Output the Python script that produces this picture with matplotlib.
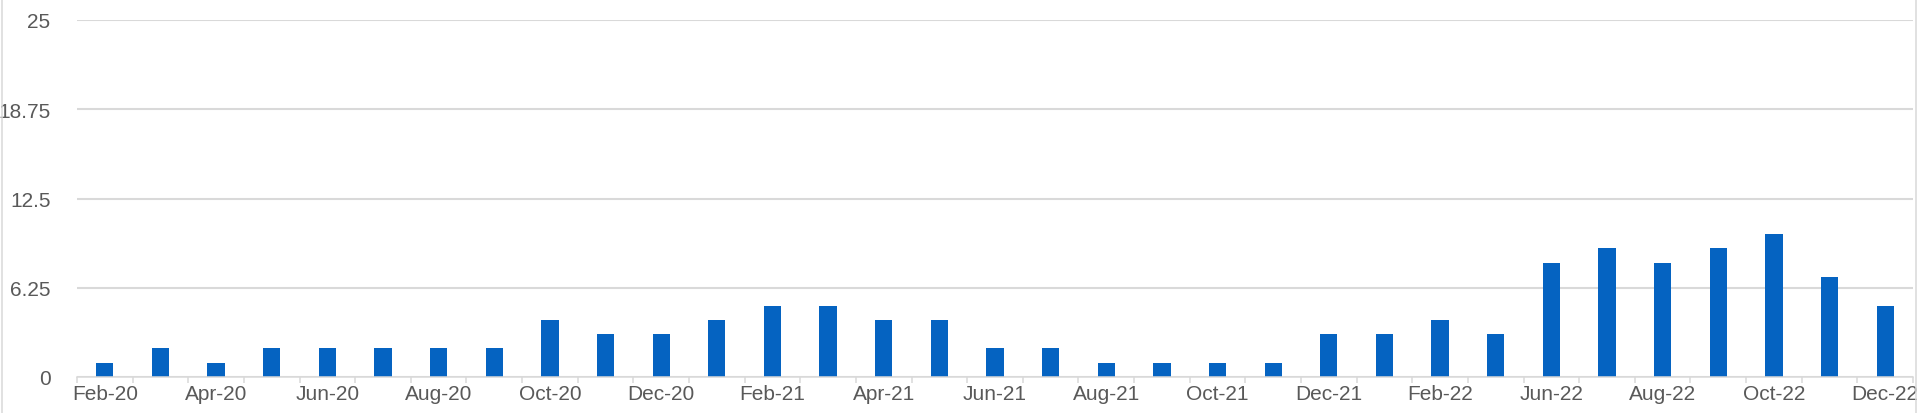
import numpy as np
import matplotlib.pyplot as plt
from matplotlib.lines import Line2D

# monthly categories (one unlabeled category between Feb-22 and Jun-22)
months = ['Feb-20', 'Mar-20', 'Apr-20', 'May-20', 'Jun-20', 'Jul-20', 'Aug-20', 'Sep-20',
          'Oct-20', 'Nov-20', 'Dec-20', 'Jan-21', 'Feb-21', 'Mar-21', 'Apr-21', 'May-21',
          'Jun-21', 'Jul-21', 'Aug-21', 'Sep-21', 'Oct-21', 'Nov-21', 'Dec-21', 'Jan-22',
          'Feb-22', 'May-22', 'Jun-22', 'Jul-22', 'Aug-22', 'Sep-22', 'Oct-22', 'Nov-22',
          'Dec-22']
counts = [1, 2, 1, 2, 2, 2, 2, 2, 4, 3, 3, 4, 5, 5, 4, 4, 2, 2, 1, 1, 1, 1, 3, 3,
          4, 3, 8, 9, 8, 9, 10, 7, 5]
y_ticks = [0, 6.25, 12.5, 18.75, 25]

plt.rcParams['font.family'] = ['Liberation Sans', 'DejaVu Sans']

fig = plt.figure(figsize=(19.2, 4.14), dpi=100)
ax = fig.add_axes([77 / 1920, 36 / 414, (1913 - 77) / 1920, (378 - 21) / 414])

x = np.arange(len(months))
ax.bar(x, counts, width=0.31, color='#0563C1', zorder=3)

ax.set_xlim(-0.5, len(months) - 0.5)
ax.set_ylim(0, 25)
ax.set_yticks(y_ticks)
ax.set_yticklabels(['0', '6.25', '12.5', '18.75', '25'])
ax.grid(axis='y', color='#D9D9D9', linewidth=1.5, zorder=0)

# labels on every other category, tick marks on category boundaries
ax.set_xticks(x[::2])
ax.set_xticklabels(months[::2])
ax.set_xticks(np.arange(-0.5, len(months)), minor=True)
ax.tick_params(axis='x', which='major', length=0, pad=5, labelsize=15, colors='#595959')
ax.tick_params(axis='x', which='minor', length=4.5, width=1.1, color='#D9D9D9')
ax.tick_params(axis='y', length=0, pad=19, labelsize=15, colors='#595959')

for s in ['top', 'right', 'left']:
    ax.spines[s].set_visible(False)
ax.spines['bottom'].set_color('#D9D9D9')
ax.spines['bottom'].set_linewidth(1.1)
ax.spines['bottom'].set_zorder(4)

# chart border edges
fig.add_artist(Line2D([1.5 / 1920, 1.5 / 1920], [0, 1], color='#D9D9D9', linewidth=1.1))
fig.add_artist(Line2D([1916 / 1920, 1916 / 1920], [0, 1], color='#D9D9D9', linewidth=1.1))

fig.savefig('out.png', dpi=100)
